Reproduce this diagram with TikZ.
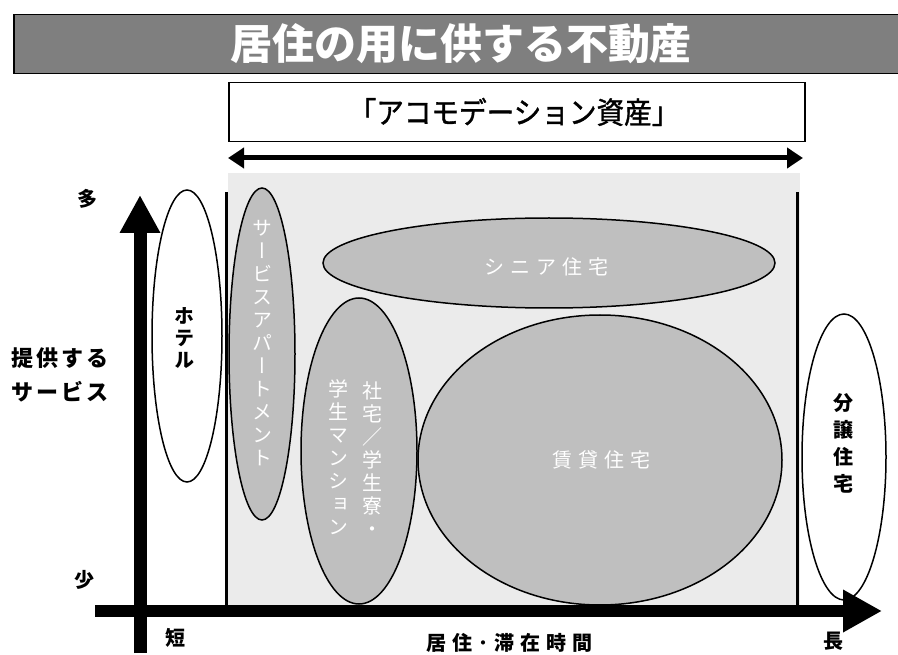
\documentclass[tikz,border=0pt]{standalone}
\usepackage{fontspec}
\setmainfont{Noto Sans CJK JP}
\newfontfamily\jpvert[RawFeature=+vert]{Noto Sans CJK JP}
\newfontfamily\jpwide[LetterSpace=30]{Noto Sans CJK JP}
\newfontfamily\jpmid[LetterSpace=15]{Noto Sans CJK JP}
\newfontfamily\jpcond[FakeStretch=0.92,FakeBold=1.2]{Noto Sans CJK JP}
\usetikzlibrary{positioning}
\usetikzlibrary{shapes.geometric,arrows.meta,calc}

\definecolor{bandgray}{HTML}{7F7F7F}
\definecolor{zonegray}{HTML}{EBEBEB}
\definecolor{itemgray}{HTML}{BFBFBF}

\begin{document}
\begin{tikzpicture}[x=1pt,y=-1pt,
	item/.style={ellipse, draw, line width=1.5pt, fill=itemgray, inner sep=0pt},
	outer/.style={ellipse, draw, line width=1.5pt, fill=white, inner sep=0pt},
	vlabel/.style={text=white, align=center, inner sep=0pt, font=\jpvert\fontsize{20}{23}\selectfont},
	hlabel/.style={text=white, inner sep=0pt, font=\jpwide\fontsize{20}{20}\selectfont},
	axislabel/.style={inner sep=0pt, font=\bfseries\fontsize{20}{24}\selectfont}]

	\useasboundingbox (0,0) rectangle (898,655);

	% title band and the accommodation box
	\node[draw, line width=1.5pt, fill=bandgray, minimum width=890pt, minimum height=59pt, anchor=north west] (band) at (13,14) {};
	\node[text=white, font=\bfseries\fontsize{42}{42}\selectfont] (title) at (461,44) {居住の用に供する不動産};

	\node[draw, line width=1.5pt, fill=white, minimum width=576pt, minimum height=59pt, anchor=north west] (accom) at (228,82) {};
	\node[font=\jpcond\fontsize{30}{30}\selectfont] (accomtext) at (514,112) {「アコモデーション資産」};

	\coordinate (spanL) at (228,158);
	\coordinate (spanR) at (803,158);
	\draw[line width=5pt, {Triangle[width=20pt,length=16pt]}-{Triangle[width=20pt,length=16pt]}] (spanL) -- (spanR);

	% shaded zone with its two borders
	\fill[zonegray] (228,173) rectangle (800,605);
	\draw[line width=3pt] (226,192) -- (226,605);
	\draw[line width=3pt] (797,192) -- (797,605);

	% ellipses
	\node[outer, minimum width=70pt, minimum height=292pt] (hotel) at (187,336) {};
	\node[vlabel, text=black, font=\jpvert\bfseries\fontsize{20}{22}\selectfont] (hoteltext) at (184,338) {ホ\\テ\\ル};

	\node[item, minimum width=66pt, minimum height=332pt] (servapt) at (262,354) {};
	\node[vlabel] (servapttext) at (262,343) {サ\\ー\\ビ\\ス\\ア\\パ\\ー\\ト\\メ\\ン\\ト};

	\node[item, minimum width=452pt, minimum height=90pt] (senior) at (549,263) {};
	\node[hlabel] (seniortext) at (546,267) {シニア住宅};

	\node[item, minimum width=116pt, minimum height=306pt] (shataku) at (359,451) {};
	\node[vlabel] (shatakuR) at (372,459) {社\\宅\\{\normalfont ／}\\学\\生\\寮\\・};
	\node[vlabel] (shatakuL) at (338,457) {学\\生\\マ\\ン\\シ\\ョ\\ン};

	\node[item, minimum width=364pt, minimum height=290pt] (rental) at (600,460) {};
	\node[hlabel] (rentaltext) at (601,460) {賃貸住宅};

	\node[outer, minimum width=84pt, minimum height=286pt] (bunjo) at (844,457) {};
	\node[vlabel, text=black, font=\jpvert\bfseries\fontsize{20}{27}\selectfont] (bunjotext) at ($(bunjo)+(-1,-14)$) {分\\譲\\住\\宅};

	% axes
	\coordinate (ybot) at (140,653);
	\coordinate (ytop) at (140,195);
	\coordinate (xleft) at (95,611);
	\coordinate (xright) at (882,611);
	\draw[line width=13pt, -{Triangle[width=38pt,length=38pt]}] (ybot) -- (ytop);
	\draw[line width=12pt, -{Triangle[width=40pt,length=39pt]}] (xleft) -- (xright);

	\node[axislabel] (many) at (87,199) {多};
	\node[axislabel] (few) at (84,580) {少};
	\node[axislabel] (short) at (175,638) {短};
	\node[axislabel] (long) at (833,641) {長};
	\node[axislabel, font=\jpmid\bfseries\fontsize{22}{34}\selectfont, align=center] (service) at (60,375) {提供する\\サービス};
	\node[axislabel, font=\jpwide\bfseries\fontsize{20}{20}\selectfont] (stay) at (509,643) {居住･滞在時間};

\end{tikzpicture}
\end{document}
